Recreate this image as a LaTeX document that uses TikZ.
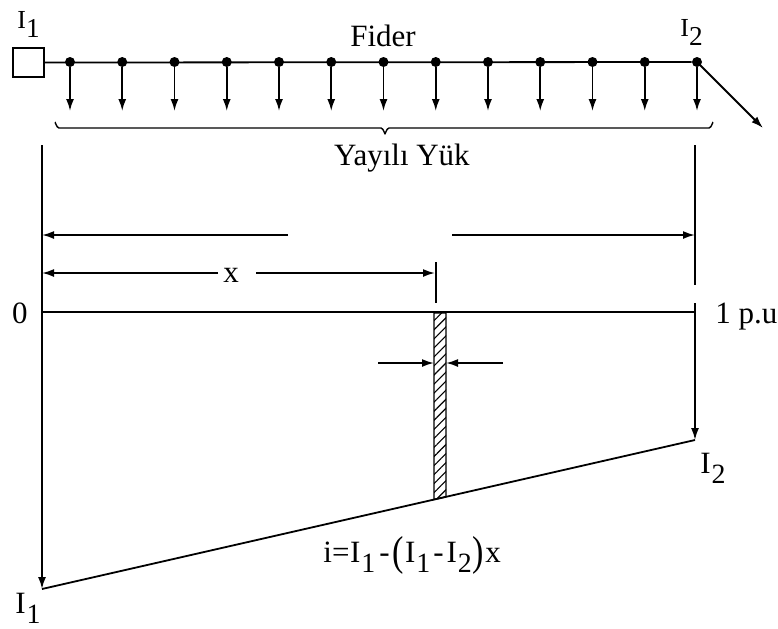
\documentclass[tikz,border=0pt]{standalone}
\usepackage{fontspec}
\usepackage{graphicx}
\setmainfont{Liberation Serif}
\usetikzlibrary{arrows.meta,patterns.meta}
\newcommand{\sbs}[1]{\raisebox{-0.33em}{\scalebox{0.9}{#1}}}
\newcommand{\tsbs}[1]{\raisebox{-0.36em}{\scalebox{1.05}{#1}}}
\begin{document}
\begin{tikzpicture}[x=0.5pt,y=-0.5pt,
  ln/.style={line width=0.9pt,black},
  arr/.style={ln,-{Latex[length=6pt,width=4pt]}},
  dot/.style={circle,fill=black,inner sep=0pt,minimum size=5pt},
  lbl/.style={inner sep=0pt,font=\fontsize{15.5}{18}\selectfont},
  slbl/.style={inner sep=0pt,font=\fontsize{13}{15}\selectfont}]
\useasboundingbox (0,0) rectangle (778,628);
% feeder
\node[draw,ln,minimum width=15.5pt,minimum height=14.5pt,inner sep=0pt] (src) at (28.5,62.5) {};
\foreach \i in {0,...,12}{
  \node[dot] (d\i) at ({70+52.25*\i},62) {};
  \coordinate (l\i) at ({70+52.25*\i},111);
  \draw[arr] (d\i) -- (l\i);
}
\draw[ln] (src.east) -- (d12);
\coordinate (out) at (763,128);
\draw[arr] (d12.center) -- (out);
% brace
\draw[ln,line width=0.7pt] (55,123) to[out=90,in=180] (59,128) -- (381,128) to[out=0,in=-90] (385,133)
  to[out=-90,in=180] (389,128) -- (709,128) to[out=0,in=90] (713,123);
% labels
\node[slbl,anchor=base west] (i1t) at (17,28) {I\tsbs{1}};
\node[slbl,anchor=base west] (i2t) at (680,36) {I\tsbs{2}};
\node[lbl,anchor=base] (fider) at (383,46) {Fider};
\node[lbl,anchor=base] (yuk) at (402,165) {Yayılı Yük};
% verticals
\coordinate (Ltop) at (42,145);
\coordinate (Lbot) at (42,589);
\coordinate (Rtop) at (695,145);
\coordinate (Rg1) at (695,285);
\coordinate (Rg2) at (695,303);
\coordinate (Rbot) at (695,440);
\draw[arr] (Ltop) -- (Lbot);
\draw[ln] (Rtop) -- (Rg1);
\draw[arr] (Rg2) -- (Rbot);
\draw[ln] (Lbot) -- (Rbot);
% dimension lines
\coordinate (a1) at (288,235); \coordinate (a1t) at (42,235);
\coordinate (a2) at (452,235); \coordinate (a2t) at (695,235);
\draw[arr] (a1) -- (a1t);
\draw[arr] (a2) -- (a2t);
\coordinate (x1) at (218,273); \coordinate (x1t) at (42,273);
\coordinate (x2) at (256,273); \coordinate (x2t) at (435,273);
\draw[arr] (x1) -- (x1t);
\draw[arr] (x2) -- (x2t);
\node[lbl,anchor=base] (xl) at (231,282) {x};
\coordinate (tk1) at (436,262); \coordinate (tk2) at (436,303);
\draw[ln] (tk1) -- (tk2);
% zero line
\coordinate (z0) at (42,312); \coordinate (z1) at (696,312);
\draw[ln] (z0) -- (z1);
\node[lbl,anchor=base] (zero) at (20,323) {0};
\node[lbl,anchor=base west] (pu) at (715,323) {1 p.u};
% strip
\draw[ln,line width=0.7pt,pattern={Lines[angle=45,distance=3.2pt,line width=0.55pt]}]
  (434,313) -- (446,313) -- (446,496.8) -- (434,499.5) -- cycle;
\coordinate (h1) at (378,363); \coordinate (h1t) at (434,363);
\coordinate (h2) at (503,363); \coordinate (h2t) at (446,363);
\draw[arr] (h1) -- (h1t);
\draw[arr] (h2) -- (h2t);
% bottom labels
\node[lbl,anchor=base west] (form) at (323,562) {i=\kern0.3ptI\kern0.5pt\sbs{1}\kern2pt-\kern1.5pt\raisebox{-0.12em}{\scalebox{1.1}[1.35]{(}}\kern0.5ptI\kern0.5pt\sbs{1}\kern1.5pt-\kern1.5ptI\kern0.5pt\sbs{2}\kern0.5pt\raisebox{-0.12em}{\scalebox{1.1}[1.35]{)}}\kern0.5ptx};
\node[lbl,anchor=base west] (i2b) at (700,473) {I\kern0.5pt\sbs{2}};
\node[lbl,anchor=base west] (i1b) at (15,613) {I\kern0.5pt\sbs{1}};
\end{tikzpicture}
\end{document}
